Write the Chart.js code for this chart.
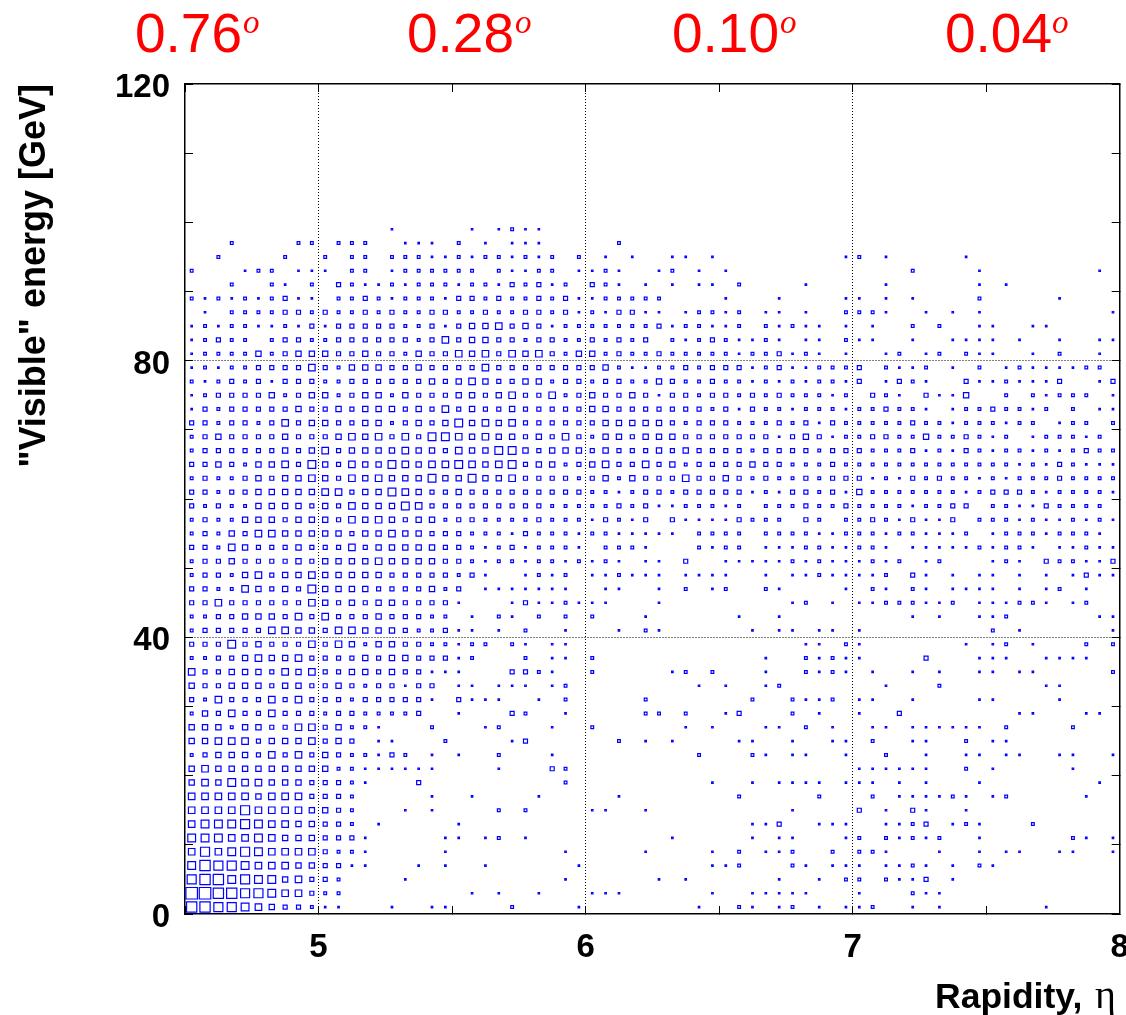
<!DOCTYPE html>
<html><head><meta charset="utf-8">
<style>html,body{margin:0;padding:0;background:#fff;overflow:hidden;width:1126px;height:1015px}canvas{display:block}</style>
<script src="https://cdn.jsdelivr.net/npm/chart.js@4/dist/chart.umd.min.js"></script>
</head><body><canvas id="c" width="1129" height="1015"></canvas>
<script>
const energyBins=[99,97,95,93,91,89,87,85,83,81,79,77,75,73,71,69,67,65,63,61,59,57,55,53,51,49,47,45,43,41,39,37,35,33,31,29,27,25,23,21,19,17,15,13,11,9,7,5,3,1];
const etaFirstBin=4.525, etaBinWidth=0.05;
const binLevels=[
"000000000000000 100000101211000 00000000000000000000 00000000000000000000",
"000200002202220 011102010111000 00200000000000000000 00000000000000000000",
"002000020020220 222112122121202 01010011010000000001 20100000100000000000",
"200012201110220 122222202112201 12100120101000000000 00002000010000000010",
"000200210203211 212221221323120 32101010110200001000 00100000010100000000",
"212121231102232 122213323223231 12222200001000100001 10101000020000010000",
"010222233232232 322332232233231 21331101221201101002 22100101010000000001",
"121221121313333 322313445343122 22222312211202121101 01002020011001100000",
"123220233223333 332353443323322 32323021232112101102 11001001111010010011",
"122224234443343 324335453545324 42322322222122312101 00120120211001020010",
"121223333532444 334333353333333 34211223233312311222 30211201020121111220",
"212323133322333 333434543344233 23322432232212121221 30132100311211130013",
"123333423442344 243334434533523 43343133233232322212 03210311400202122201",
"132333334334344 434353433433333 44333333323132212221 22322101223221202011",
"332332353443344 234346454533333 34444432333222323132 22223221222122012202",
"234333343334545 353665454434353 24434443333333134312 23322422321201222120",
"233333343453444 454435446643444 34333434333323333233 32223121321221212322",
"334324453643544 654556545634423 45335342333343322232 22222222222212132111",
"232234344543545 444644644533332 34243335334323223233 31213232212122232222",
"332334444455344 654334333333333 22123323333312133231 42222222123332122221",
"323224444343544 465333333333222 22323112221202223223 22221223302211322220",
"232244434443545 434423322223222 13213031111322203202 23213113022212112121",
"232435544444344 544333222132221 22111110222202222112 22122111201222122210",
"332543334333534 444433212312221 02221000212201112211 22101111121221011211",
"233433334344445 444433212212212 12101103001111121211 12120120001210322113",
"233245344544444 333332310012120 11211101111001011211 11203101011010101311",
"332254343644443 333423011111110 01100102012002100001 02102101111010120100",
"335333333543434 433331000131121 11000100000000012010 11222112011122101200",
"223344435353334 333220102102020 20001000000100100000 00001010011200000011",
"233333554435544 432231101020010 00102100000010110110 10000000002010000001",
"333634333535424 433221220210110 00000000000000001102 10000000101201000202",
"223345445333343 443331200020110 20000000000001002121 10000300011100111100",
"533444354533443 433111000332100 20000012020001002121 01001010011011000002",
"433444344334323 313301101110120 00000000101001200000 00100020000000110000",
"325333535333233 333103111001020 00002000000020021120 11001000011000010000",
"243533533323322 223001000320010 00002202001300020100 10030000000011000110",
"444244335534221 000200012000100 20000001010001102010 01101111110200002000",
"445553444534301 100020000130000 00201010000110010011 02001100201100000000",
"234443535343221 320101002000100 00000000200021011001 00200100110110011001",
"454444444442211 111100001000320 00000000000000000000 11111100201000001000",
"454655444333210 003000000000020 00000000010010111101 11010100010000000010",
"555554555333200 000100100001000 00100000000200000200 02011112101200000100",
"555575555443200 010100002020000 11001000000000010000 30103100100000000000",
"566676554433201 000001000000000 00000000000011300111 00112301210002000000",
"666556544433310 000011012010000 00000010000010110001 20212120010000002101",
"575676555532210 000010000000010 00001000010201120020 22100010010110011001",
"687765554433110 001010010000001 00000000011200021011 10112101021000000000",
"788676645332000 010000000000010 00000101000000100102 20211301000000000000",
"998877655322000 000000101001000 11100000010011111000 10002110000000000000",
"887765433211000 100110000200001 00000000100210120101 12001010000000100000"
];
const xTickLabels=[5,6,7,8];
const yTickLabels=[0,40,80,120];
const angleLabels=["0.76","0.28","0.10","0.04"];
const xTitle="Rapidity,", xTitleSymbol="\u03b7", yTitle='"Visible" energy [GeV]';

const points=[];
binLevels.forEach((row,r)=>{
  const s=row.replace(/ /g,'');
  if(s.length!==70) throw new Error('row E='+energyBins[r]+' length '+s.length);
  [...s].forEach((ch,c)=>{ if(ch!=='0') points.push({x:etaFirstBin+c*etaBinWidth,y:energyBins[r],v:+ch}); });
});
const boxRadius=v=>(1.5+1.25*(v-1))/Math.SQRT2;

const annotate={id:'annotate',afterDraw(chart){
  const c=chart.ctx; c.save(); c.textBaseline='alphabetic'; c.textAlign='left';
  const ax=[135,407,672,945], ox=[243,515,780,1052];
  angleLabels.forEach((t,i)=>{
    c.fillStyle='#ff0000';
    c.font='55px "Liberation Sans"'; c.fillText(t,ax[i],52);
    c.font='italic 33px "Liberation Serif"'; c.fillText('o',ox[i],33);
  });
  c.fillStyle='#000';
  c.font='bold 35.5px "Liberation Sans"'; c.fillText(xTitle,935,1008);
  c.font='40px "Liberation Serif"'; c.fillText(xTitleSymbol,1095,1008);
  c.restore();
}};

const gridColor=(vals)=>ctx=>vals.includes(ctx.tick.value)?'#000':'rgba(0,0,0,0)';
const common={grid:{drawTicks:true,tickLength:-8,tickColor:'#000',tickWidth:1,lineWidth:1},border:{color:'#000',width:1.5,dash:[1,2]}};

new Chart(document.getElementById('c'),{
  type:'scatter',
  data:{datasets:[{data:points,pointStyle:'rect',backgroundColor:'rgba(0,0,0,0)',borderColor:'#0000ff',pointBorderWidth:1.2,
    pointRadius:ctx=>boxRadius(ctx.raw?ctx.raw.v:1),pointHoverRadius:ctx=>boxRadius(ctx.raw?ctx.raw.v:1)}]},
  plugins:[annotate],
  options:{responsive:false,animation:false,devicePixelRatio:1,
    layout:{padding:0},
    plugins:{legend:{display:false},tooltip:{enabled:false}},
    scales:{
      x:{type:'linear',position:'bottom',min:4.5,max:8,
        ...common,grid:{...common.grid,color:gridColor([5,6,7])},
        ticks:{stepSize:0.5,autoSkip:false,maxRotation:0,padding:22,color:'#000',font:{family:'Liberation Sans',size:33,weight:'bold'},
          callback:v=>xTickLabels.includes(v)?String(v):''},
        afterFit(s){s.height=101;s.paddingLeft=0;s.paddingRight=0;}},
      x2:{type:'linear',position:'top',min:4.5,max:8,
        ...common,grid:{...common.grid,drawOnChartArea:false},
        ticks:{stepSize:0.5,display:false},
        afterFit(s){s.height=84;s.paddingLeft=0;s.paddingRight=0;}},
      y:{type:'linear',position:'left',min:0,max:120,
        ...common,grid:{...common.grid,color:gridColor([40,80])},
        ticks:{stepSize:10,autoSkip:false,padding:23,color:'#000',font:{family:'Liberation Sans',size:33,weight:'bold',lineHeight:'8px'},
          callback:v=>yTickLabels.includes(v)?['',String(v)]:''},
        title:{display:true,text:yTitle,align:'end',color:'#000',font:{family:'Liberation Sans',size:36,weight:'bold'},padding:{top:13,bottom:0}},
        afterFit(s){s.width=185;s.paddingTop=0;s.paddingBottom=0;}},
      y2:{type:'linear',position:'right',min:0,max:120,
        ...common,grid:{...common.grid,drawOnChartArea:false},
        ticks:{stepSize:10,display:false},
        afterFit(s){s.width=4;s.paddingTop=0;s.paddingBottom=0;}}
    }
  }
});
</script></body></html>
